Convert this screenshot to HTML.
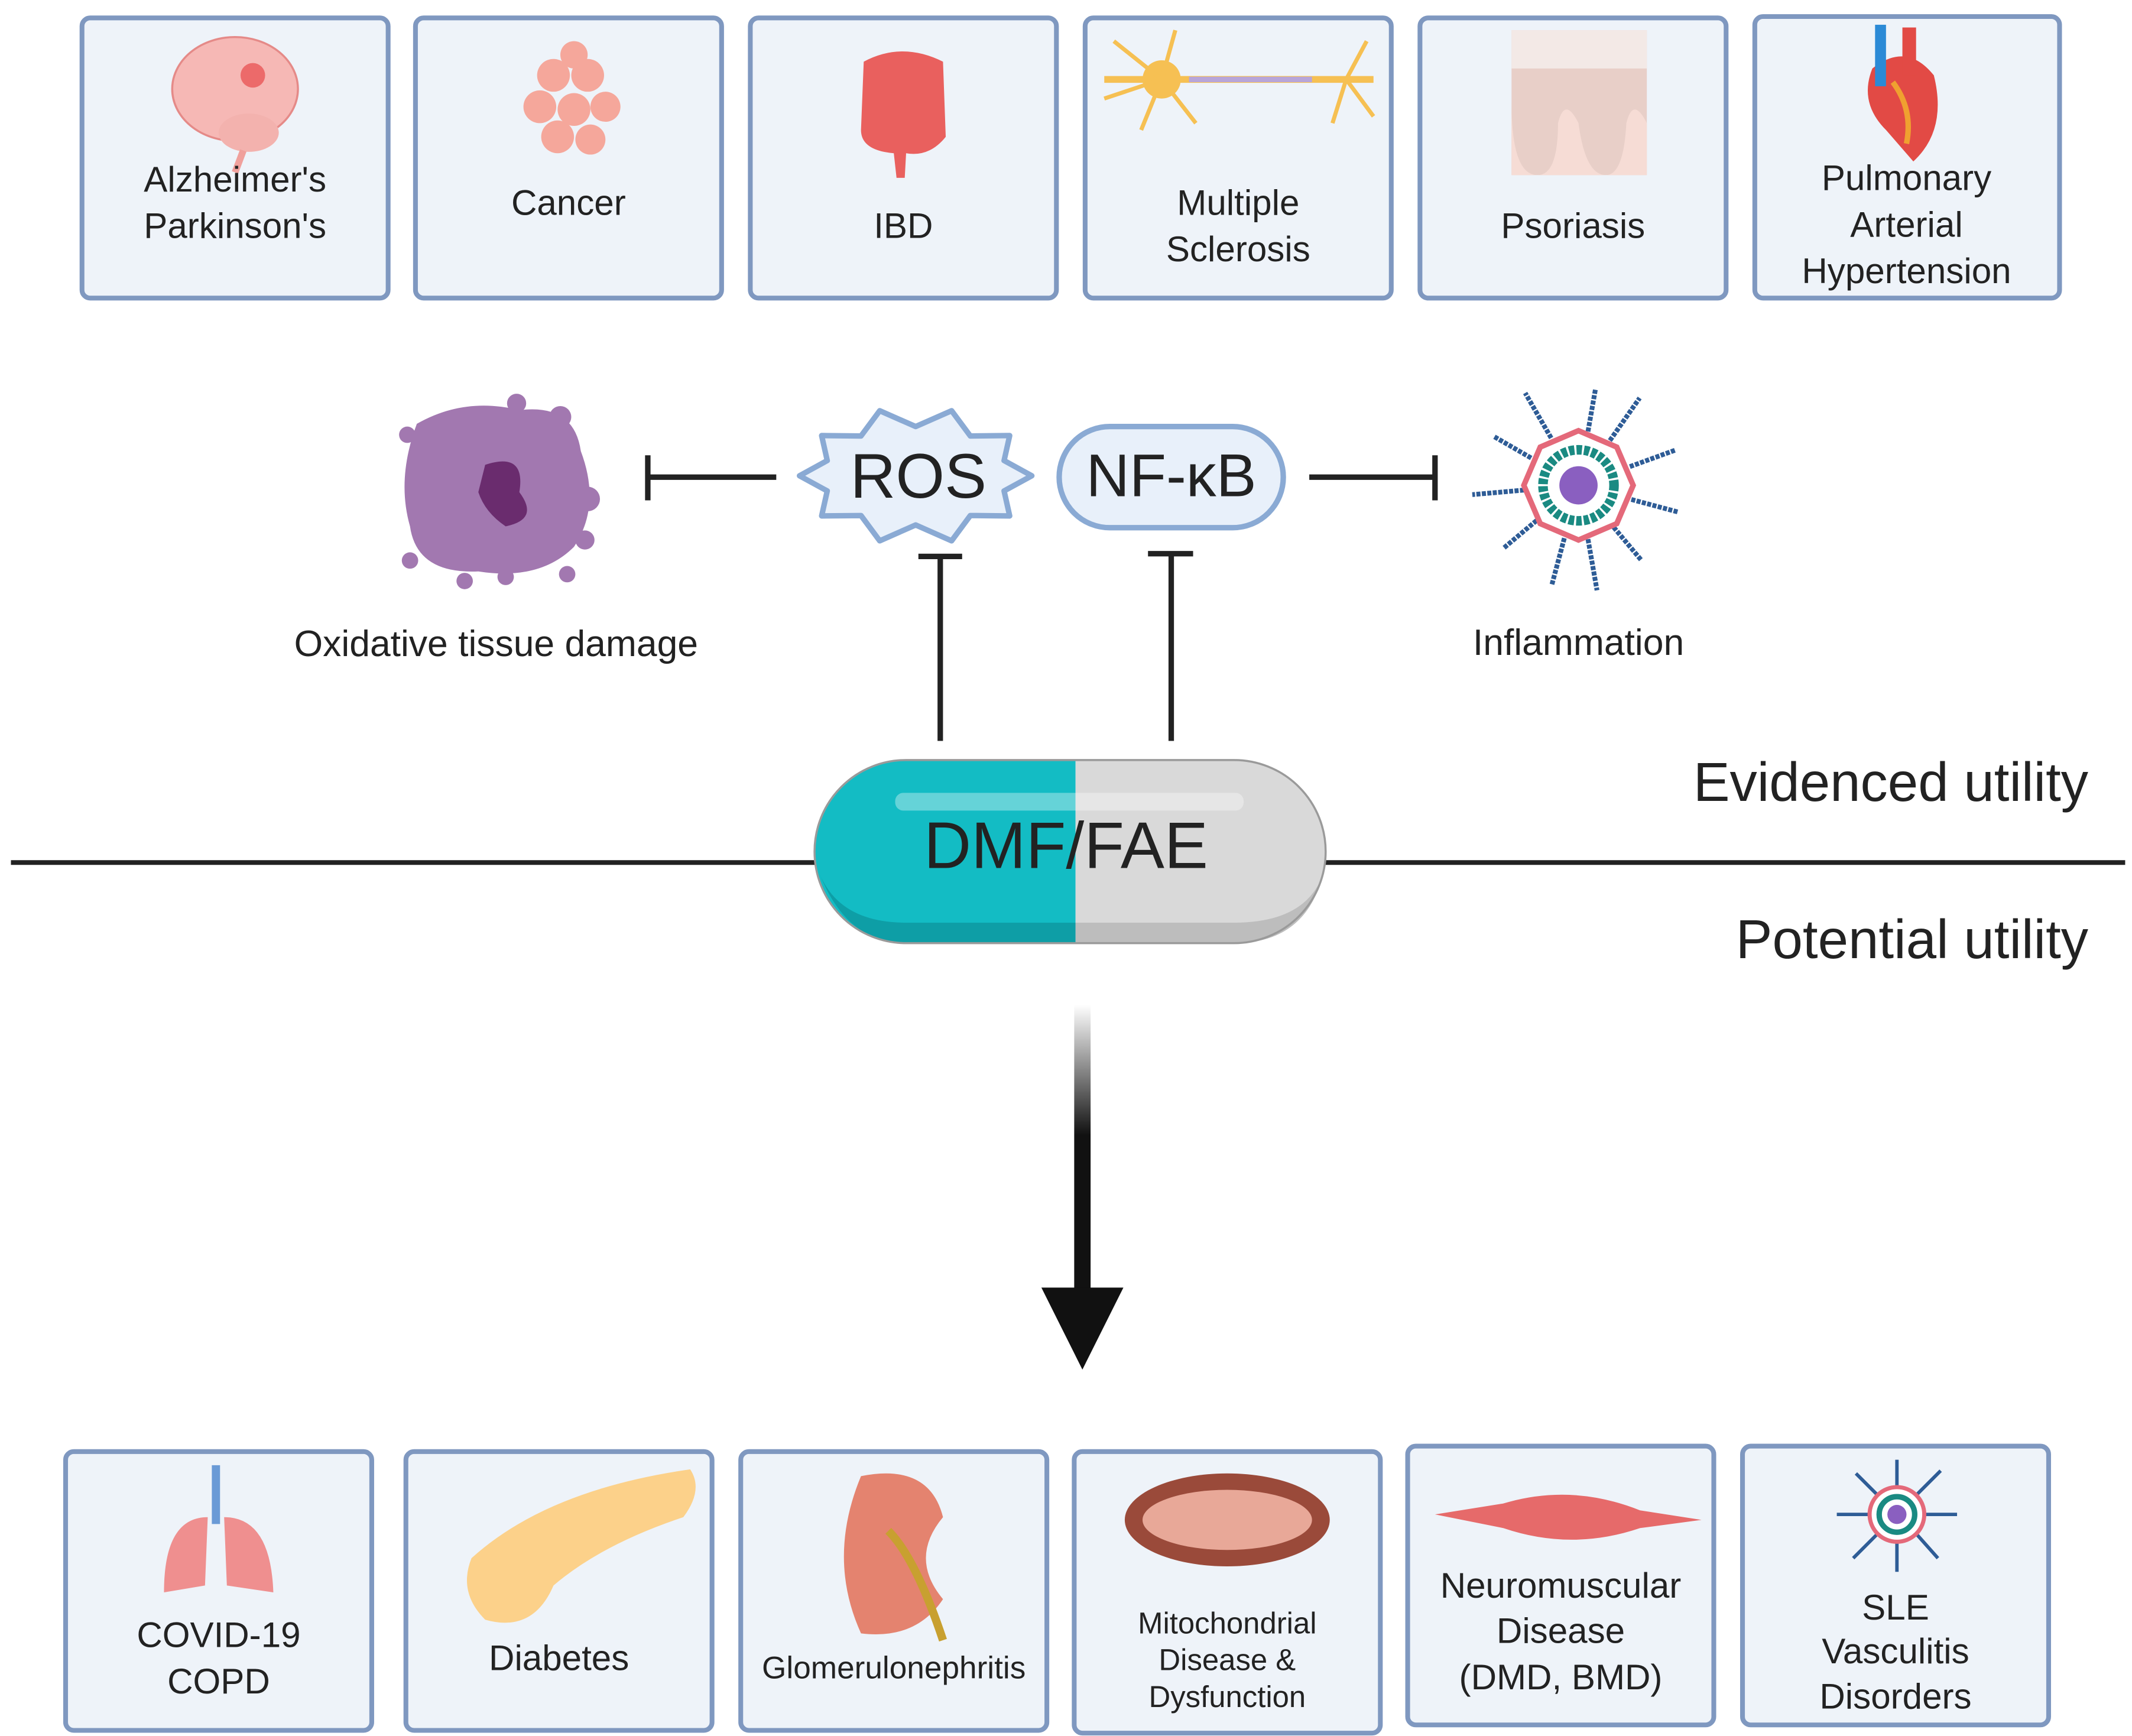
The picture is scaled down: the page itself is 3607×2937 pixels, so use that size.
<!DOCTYPE html>
<html><head><meta charset="utf-8"><style>
html,body{margin:0;padding:0;background:#fff}
svg{display:block}
text{font-family:"Liberation Sans",sans-serif;fill:#222}
</style></head><body>
<svg width="3607" height="2937" viewBox="0 0 1560 1270" xmlns="http://www.w3.org/2000/svg">
<defs>
<linearGradient id="ag" x1="0" y1="0" x2="0" y2="1"><stop offset="0" stop-color="#fff"/><stop offset="0.45" stop-color="#111"/><stop offset="1" stop-color="#111"/></linearGradient>
</defs>
<rect width="1560" height="1270" fill="#fff"/>
<g fill="#eef3f9" stroke="#7f98c0" stroke-width="3.5">
<rect x="60" y="13" width="224" height="205" rx="6"/>
<rect x="304" y="13" width="224" height="205" rx="6"/>
<rect x="549" y="13" width="224" height="205" rx="6"/>
<rect x="794" y="13" width="224" height="205" rx="6"/>
<rect x="1039" y="13" width="224" height="205" rx="6"/>
<rect x="1284" y="12" width="223" height="206" rx="6"/>
<rect x="48" y="1062" width="224" height="204" rx="6"/>
<rect x="297" y="1062" width="224" height="204" rx="6"/>
<rect x="542" y="1062" width="224" height="204" rx="6"/>
<rect x="786" y="1062" width="224" height="206" rx="6"/>
<rect x="1030" y="1058" width="224" height="204" rx="6"/>
<rect x="1275" y="1058" width="224" height="204" rx="6"/>
</g>
<!-- top icons -->
<ellipse cx="172" cy="65" rx="46" ry="38" fill="#f6b8b5" stroke="#e58a88" stroke-width="1.5"/>
<ellipse cx="182" cy="97" rx="22" ry="14" fill="#f3b2ae"/>
<circle cx="185" cy="55" r="9" fill="#e8484a" opacity=".7"/>
<path d="M178 110 L172 126" stroke="#f0a09c" stroke-width="5"/>
<g fill="#f5a79b"><circle cx="405" cy="55" r="12"/><circle cx="430" cy="55" r="12"/><circle cx="395" cy="78" r="12"/><circle cx="420" cy="80" r="12"/><circle cx="443" cy="78" r="11"/><circle cx="408" cy="100" r="12"/><circle cx="432" cy="102" r="11"/><circle cx="420" cy="40" r="10"/></g>
<path d="M632 45 Q660 30 690 45 L692 100 Q680 115 663 112 L662 130 L656 130 L654 112 Q630 110 630 95 Z" fill="#e9605e"/>
<path d="M808 58 L1005 58" stroke="#f6c053" stroke-width="5"/>
<circle cx="850" cy="58" r="14" fill="#f6c053"/>
<g stroke="#f6c053" stroke-width="3" fill="none"><path d="M850 58 L815 30 M850 58 L808 72 M850 58 L835 95 M850 58 L860 22 M850 58 L875 90 M985 58 L1000 30 M985 58 L1005 85 M985 58 L975 90"/></g>
<path d="M870 58 L960 58" stroke="#b8a5d9" stroke-width="4"/>
<rect x="1106" y="22" width="99" height="106" fill="#e8cfc8"/>
<rect x="1106" y="22" width="99" height="28" fill="#f3e9e6"/>
<path d="M1106 75 Q1106 128 1125 128 Q1140 128 1140 90 Q1145 70 1155 90 Q1160 128 1175 128 Q1188 128 1190 90 Q1195 70 1205 90 L1205 128 L1106 128Z" fill="#f6dcd5"/>
<path d="M1370 50 Q1395 30 1415 55 Q1425 95 1400 118 L1380 95 Q1360 75 1370 50Z" fill="#e24a45"/>
<rect x="1372" y="18" width="8" height="45" fill="#2b8ad6"/><rect x="1392" y="20" width="10" height="35" fill="#e24a45"/>
<path d="M1385 60 Q1400 80 1395 105" stroke="#f0a030" stroke-width="4" fill="none"/>
<!-- top labels -->
<g font-size="26" text-anchor="middle">
<text x="172" y="140">Alzheimer's</text><text x="172" y="174">Parkinson's</text>
<text x="416" y="157">Cancer</text>
<text x="661" y="174">IBD</text>
<text x="906" y="157">Multiple</text><text x="906" y="191">Sclerosis</text>
<text x="1151" y="174">Psoriasis</text>
<text x="1395" y="139">Pulmonary</text><text x="1395" y="173">Arterial</text><text x="1395" y="207">Hypertension</text>
</g>
<!-- oxidative cell -->
<path d="M305 310 Q340 290 380 300 Q420 295 425 330 Q440 370 420 400 Q395 425 350 418 Q305 420 300 385 Q290 350 305 310Z" fill="#a278b0"/>
<g fill="#a278b0"><circle cx="378" cy="295" r="7"/><circle cx="410" cy="305" r="8"/><circle cx="298" cy="318" r="6"/><circle cx="430" cy="365" r="9"/><circle cx="428" cy="395" r="7"/><circle cx="300" cy="410" r="6"/><circle cx="370" cy="422" r="6"/><circle cx="340" cy="425" r="6"/><circle cx="415" cy="420" r="6"/></g>
<path d="M355 340 Q385 330 380 360 Q395 380 370 385 Q355 375 350 360Z" fill="#6a2c6e"/>
<text x="363" y="480" font-size="27" text-anchor="middle">Oxidative tissue damage</text>
<!-- T bars -->
<g stroke="#222" stroke-width="4" fill="none">
<path d="M568 349 L474 349 M474 333 L474 366"/>
<path d="M958 349 L1050 349 M1050 333 L1050 366"/>
<path d="M688 542 L688 407 M672 407 L704 407"/>
<path d="M857 542 L857 405 M840 405 L873 405"/>
<path d="M8 631 L596 631 M970 631 L1555 631" stroke-width="3.5"/>
</g>
<!-- ROS -->
<polygon points="755,348 734.7,359.1 738.8,377.4 710,377.1 696.3,395.6 670,384 643.7,395.6 630,377.1 601.2,377.4 605.3,359.1 585,348 605.3,336.9 601.2,318.6 630,318.9 643.7,300.4 670,312 696.3,300.4 710,318.9 738.8,318.6 734.7,336.9" fill="#e8f0fa" stroke="#8aaad4" stroke-width="4" stroke-linejoin="round"/>
<text x="672" y="364" font-size="46" text-anchor="middle">ROS</text>
<!-- NF-kB -->
<rect x="775" y="312" width="164" height="74" rx="37" fill="#e8f0fa" stroke="#8aaad4" stroke-width="4"/>
<text x="857" y="363" font-size="44" text-anchor="middle">NF-κB</text>
<!-- inflammation -->
<g transform="translate(1155,355)">
<g stroke="#2e5c96" stroke-width="3.5" stroke-dasharray="3 1">
<line x1="0" y1="-40" x2="0" y2="-72" transform="rotate(10)"/><line x1="0" y1="-40" x2="0" y2="-78" transform="rotate(35)"/><line x1="0" y1="-40" x2="0" y2="-75" transform="rotate(70)"/><line x1="0" y1="-40" x2="0" y2="-75" transform="rotate(105)"/><line x1="0" y1="-40" x2="0" y2="-72" transform="rotate(140)"/><line x1="0" y1="-40" x2="0" y2="-78" transform="rotate(170)"/><line x1="0" y1="-40" x2="0" y2="-75" transform="rotate(195)"/><line x1="0" y1="-40" x2="0" y2="-72" transform="rotate(230)"/><line x1="0" y1="-40" x2="0" y2="-78" transform="rotate(265)"/><line x1="0" y1="-40" x2="0" y2="-72" transform="rotate(300)"/><line x1="0" y1="-40" x2="0" y2="-78" transform="rotate(330)"/>
</g>
<polygon points="0,-40 28,-28 40,0 28,28 0,40 -28,28 -40,0 -28,-28" fill="#fff" stroke="#e4697a" stroke-width="4"/>
<circle r="26" fill="none" stroke="#1a8a82" stroke-width="7" stroke-dasharray="4 1.5"/>
<circle r="14" fill="#8a5fc0"/>
</g>
<text x="1155" y="479" font-size="27" text-anchor="middle">Inflammation</text>
<!-- pill -->
<path d="M663 556 L787 556 L787 690 L663 690 A67 67 0 0 1 663 556Z" fill="#13bcc4"/>
<path d="M787 556 L903 556 A67 67 0 0 1 903 690 L787 690Z" fill="#d9d9d9"/>
<path d="M600 640 Q620 690 663 690 L787 690 L787 675 L663 675 Q615 675 600 640Z" fill="#0e9ea6"/>
<path d="M787 675 L903 675 Q955 675 968 640 Q955 690 903 690 L787 690Z" fill="#bdbdbd"/>
<rect x="655" y="580" width="255" height="13" rx="6" fill="#fff" opacity=".35"/>
<path d="M663 556 L903 556 A67 67 0 0 1 903 690 L663 690 A67 67 0 0 1 663 556Z" fill="none" stroke="#9a9a9a" stroke-width="1.5"/>
<text x="780" y="635" font-size="48" text-anchor="middle">DMF/FAE</text>
<text x="1528" y="586" font-size="40" text-anchor="end">Evidenced utility</text>
<text x="1528" y="701" font-size="40" text-anchor="end">Potential utility</text>
<!-- arrow -->
<rect x="786" y="735" width="12" height="212" fill="url(#ag)"/>
<polygon points="762,942 822,942 792,1002" fill="#111"/>
<!-- bottom icons -->
<path d="M158 1072 L158 1115" stroke="#6a9ad6" stroke-width="6"/>
<path d="M152 1110 Q120 1110 120 1165 L150 1160 Z" fill="#ef8f8f"/><path d="M164 1110 Q198 1110 200 1165 L166 1160 Z" fill="#ef8f8f"/>
<path d="M345 1140 Q400 1090 505 1075 Q515 1090 500 1110 Q440 1130 405 1160 Q390 1195 355 1185 Q335 1165 345 1140Z" fill="#fcd18a"/>
<path d="M630 1080 Q680 1070 690 1110 Q665 1140 690 1170 Q670 1200 630 1195 Q605 1140 630 1080Z" fill="#e4836f"/>
<path d="M650 1120 Q670 1140 690 1200" stroke="#c8a030" stroke-width="6" fill="none"/>
<ellipse cx="898" cy="1112" rx="75" ry="34" fill="#9a4a3a"/>
<ellipse cx="898" cy="1112" rx="62" ry="22" fill="#e8a898"/>
<path d="M1050 1108 L1100 1100 Q1150 1085 1200 1105 L1245 1112 L1200 1118 Q1150 1135 1100 1118 Z" fill="#e66a6a"/>
<g transform="translate(1388,1108)">
<g stroke="#2e5c96" stroke-width="2.5"><line x1="0" y1="-20" x2="0" y2="-40"/><line x1="0" y1="20" x2="0" y2="42" /><line x1="-20" y1="0" x2="-44" y2="0"/><line x1="20" y1="0" x2="44" y2="0"/><line x1="14" y1="-14" x2="32" y2="-32"/><line x1="-14" y1="14" x2="-32" y2="32"/><line x1="-14" y1="-14" x2="-30" y2="-30"/><line x1="14" y1="14" x2="30" y2="32"/></g>
<circle r="20" fill="#fff" stroke="#e4697a" stroke-width="3"/><circle r="13" fill="none" stroke="#1a8a82" stroke-width="4"/><circle r="7" fill="#8a5fc0"/>
</g>
<!-- bottom labels -->
<g font-size="26" text-anchor="middle">
<text x="160" y="1205">COVID-19</text><text x="160" y="1239">COPD</text>
<text x="409" y="1222">Diabetes</text>
<text x="654" y="1228" font-size="23">Glomerulonephritis</text>
<text x="898" y="1195" font-size="22">Mitochondrial</text><text x="898" y="1222" font-size="22">Disease &amp;</text><text x="898" y="1249" font-size="22">Dysfunction</text>
<text x="1142" y="1169">Neuromuscular</text><text x="1142" y="1202">Disease</text><text x="1142" y="1236">(DMD, BMD)</text>
<text x="1387" y="1185">SLE</text><text x="1387" y="1217">Vasculitis</text><text x="1387" y="1250">Disorders</text>
</g>
</svg>
</body></html>
